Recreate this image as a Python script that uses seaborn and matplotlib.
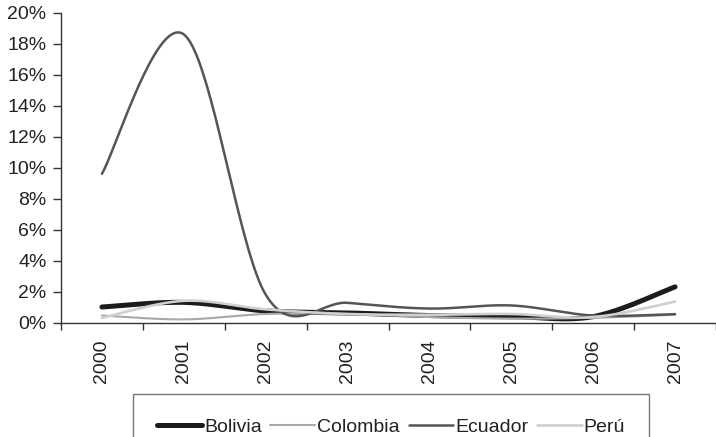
import numpy as np
import pandas as pd
import matplotlib
matplotlib.use("Agg")
import matplotlib.pyplot as plt
import seaborn as sns

# Data (percent)
years = ["2000", "2001", "2002", "2003", "2004", "2005", "2006", "2007"]
bolivia = [1.0, 1.3, 0.75, 0.62, 0.45, 0.38, 0.38, 2.3]
colombia = [0.45, 0.2, 0.55, 0.55, 0.35, 0.25, 0.3, 0.5]
ecuador = [9.6, 18.6, 1.8, 1.27, 0.9, 1.1, 0.45, 0.54]
peru = [0.3, 1.4, 0.85, 0.55, 0.5, 0.55, 0.35, 1.35]

series = [
    ("Bolivia", bolivia, "#1c1c1c", 3.6),
    ("Colombia", colombia, "#a8a8a8", 1.5),
    ("Ecuador", ecuador, "#555555", 1.8),
    ("Perú", peru, "#cfcfcf", 1.9),
]


def smooth(xv, yv, n=40):
    """Excel-style smoothed line: cubic Bezier through every point."""
    pts = np.column_stack([xv, yv]).astype(float)
    ext = np.vstack([pts[0], pts, pts[-1]])
    out = []
    t = np.linspace(0, 1, n)[:, None]
    for i in range(len(pts) - 1):
        p0, p3 = pts[i], pts[i + 1]
        c1 = p0 + (ext[i + 2] - ext[i]) / 6
        c2 = p3 - (ext[i + 3] - ext[i + 1]) / 6
        seg = ((1 - t) ** 3) * p0 + 3 * ((1 - t) ** 2) * t * c1 + 3 * (1 - t) * t ** 2 * c2 + t ** 3 * p3
        out.append(seg if i == 0 else seg[1:])
    out = np.vstack(out)
    return pd.DataFrame({"x": out[:, 0], "y": out[:, 1]})


sns.set_style("ticks")
plt.rcParams["font.family"] = ["Liberation Sans", "DejaVu Sans"]

fig = plt.figure(figsize=(7.16, 4.37), dpi=100)
ax = fig.add_axes([61 / 716, 1 - 322.5 / 437, 1 - 61 / 716, (322.5 - 12.7) / 437])

x = np.arange(len(years))
for name, vals, color, lw in series:
    sns.lineplot(data=smooth(x, vals), x="x", y="y", sort=False, estimator=None,
                 color=color, lw=lw, label=name, ax=ax, legend=False)

ax.set_xlim(-0.5, 7.445)
ax.set_ylim(0, 20)
ax.set_yticks(range(0, 21, 2))
ax.set_yticklabels([f"{v}%" for v in range(0, 21, 2)], fontsize=14, color="#222222")
ax.set_xticks(x)
ax.set_xticklabels(years, rotation=90, fontsize=14, color="#222222")
ax.set_xticks(np.arange(-0.5, 8, 1), minor=True)
ax.tick_params(axis="x", which="major", length=0, pad=12)
ax.tick_params(axis="x", which="minor", length=5, width=1, color="#333333", direction="out")
ax.tick_params(axis="y", length=5.5, width=1, color="#333333", pad=5)
ax.set_xlabel("")
ax.set_ylabel("")
for s in ["top", "right"]:
    ax.spines[s].set_visible(False)
for s in ["left", "bottom"]:
    ax.spines[s].set_color("#333333")
    ax.spines[s].set_linewidth(1)

handles, labels = ax.get_legend_handles_labels()
leg = fig.legend(handles, labels, loc="upper left",
                 bbox_to_anchor=(133 / 716, 1 - 394 / 437), ncol=4, frameon=True,
                 fontsize=14, handlelength=2.3, handletextpad=0.1, columnspacing=0.45,
                 borderpad=1.25, borderaxespad=0, fancybox=False, labelcolor="#222222")
leg.get_frame().set_edgecolor("#555555")
leg.get_frame().set_linewidth(1)

fig.savefig("out.png", dpi=100)
